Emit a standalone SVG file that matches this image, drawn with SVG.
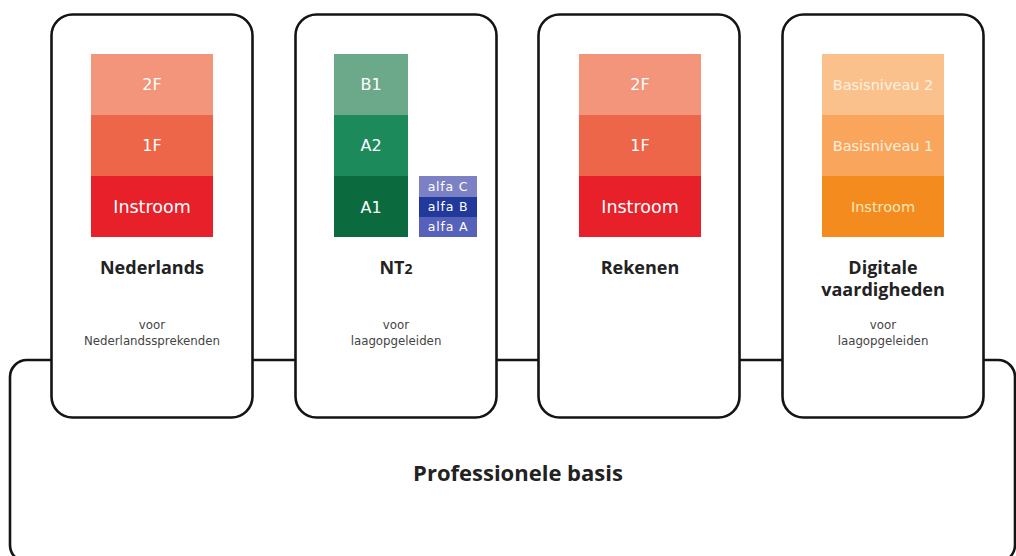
<svg xmlns="http://www.w3.org/2000/svg" width="1016" height="556" viewBox="0 0 1016 556">
<style>
.card{fill:#fff;stroke:#141414;stroke-width:2.6}
.lbl{font-family:"DejaVu Sans",sans-serif;font-size:16px;fill:#fff;text-anchor:middle}
.lbl4{font-family:"DejaVu Sans",sans-serif;font-size:14.5px;text-anchor:middle}
.alfa{font-family:"DejaVu Sans",sans-serif;font-size:12.5px;fill:#fff;text-anchor:middle;letter-spacing:0.8px}
.head{font-family:"Open Sans",sans-serif;font-weight:bold;font-size:18px;fill:#222;text-anchor:middle}
.sub{font-family:"DejaVu Sans",sans-serif;font-size:11.8px;fill:#444;text-anchor:middle}
</style>
<rect width="1016" height="556" fill="#fff"/>
<g id="connectors">
<rect id="professionele-basis-frame" x="10" y="360" width="1005" height="202" rx="17" fill="#fff" stroke="#141414" stroke-width="2.6"/>
</g>
<g id="professionele-basis">
<text x="518" y="481" font-family="Open Sans, sans-serif" font-weight="bold" font-size="22" fill="#222" text-anchor="middle">Professionele basis</text>
</g>
<g id="nederlands">
<rect class="card" x="51.5" y="14.5" width="201" height="403" rx="21"/>
<rect x="91" y="54" width="122" height="61" fill="#F3957A"/>
<rect x="91" y="115" width="122" height="61" fill="#EE664A"/>
<rect x="91" y="176" width="122" height="61" fill="#E8202A"/>
<text class="lbl" x="152" y="90">2F</text>
<text class="lbl" x="152" y="151">1F</text>
<text class="lbl" x="152" y="213" style="font-size:17.5px">Instroom</text>
<text class="head" x="152" y="274">Nederlands</text>
<text class="sub" x="152" y="329">voor</text>
<text class="sub" x="152" y="345">Nederlandssprekenden</text>
</g>
<g id="nt2">
<rect class="card" x="295.5" y="14.5" width="201" height="403" rx="21"/>
<rect x="334" y="54" width="74" height="61" fill="#6BA98A"/>
<rect x="334" y="115" width="74" height="61" fill="#1D8A5C"/>
<rect x="334" y="176" width="74" height="61" fill="#0B6B3F"/>
<text class="lbl" x="371" y="90">B1</text>
<text class="lbl" x="371" y="151">A2</text>
<text class="lbl" x="371" y="213">A1</text>
<rect x="419" y="176" width="58" height="21" fill="#7C81C6"/>
<rect x="419" y="197" width="58" height="20" fill="#20399B"/>
<rect x="419" y="217" width="58" height="20" fill="#5661BA"/>
<text class="alfa" x="448" y="191">alfa C</text>
<text class="alfa" x="448" y="211">alfa B</text>
<text class="alfa" x="448" y="231">alfa A</text>
<text class="head" x="396" y="274">NT<tspan font-size="14">2</tspan></text>
<text class="sub" x="396" y="329">voor</text>
<text class="sub" x="396" y="345">laagopgeleiden</text>
</g>
<g id="rekenen">
<rect class="card" x="538.5" y="14.5" width="201" height="403" rx="21"/>
<rect x="579" y="54" width="122" height="61" fill="#F3957A"/>
<rect x="579" y="115" width="122" height="61" fill="#EE664A"/>
<rect x="579" y="176" width="122" height="61" fill="#E8202A"/>
<text class="lbl" x="640" y="90">2F</text>
<text class="lbl" x="640" y="151">1F</text>
<text class="lbl" x="640" y="213" style="font-size:17.5px">Instroom</text>
<text class="head" x="640" y="274">Rekenen</text>
</g>
<g id="digitale-vaardigheden">
<rect class="card" x="782.5" y="14.5" width="201" height="403" rx="21"/>
<rect x="822" y="54" width="122" height="61" fill="#FBC18C"/>
<rect x="822" y="115" width="122" height="61" fill="#F9A55C"/>
<rect x="822" y="176" width="122" height="61" fill="#F38B1F"/>
<text class="lbl4" x="883" y="90" fill="#FFF1E2">Basisniveau 2</text>
<text class="lbl4" x="883" y="151" fill="#FFEFDD">Basisniveau 1</text>
<text class="lbl4" x="883" y="212" fill="#FDE6B8">Instroom</text>
<text class="head" x="883" y="274">Digitale</text>
<text class="head" x="883" y="296">vaardigheden</text>
<text class="sub" x="883" y="329">voor</text>
<text class="sub" x="883" y="345">laagopgeleiden</text>
</g>
</svg>
